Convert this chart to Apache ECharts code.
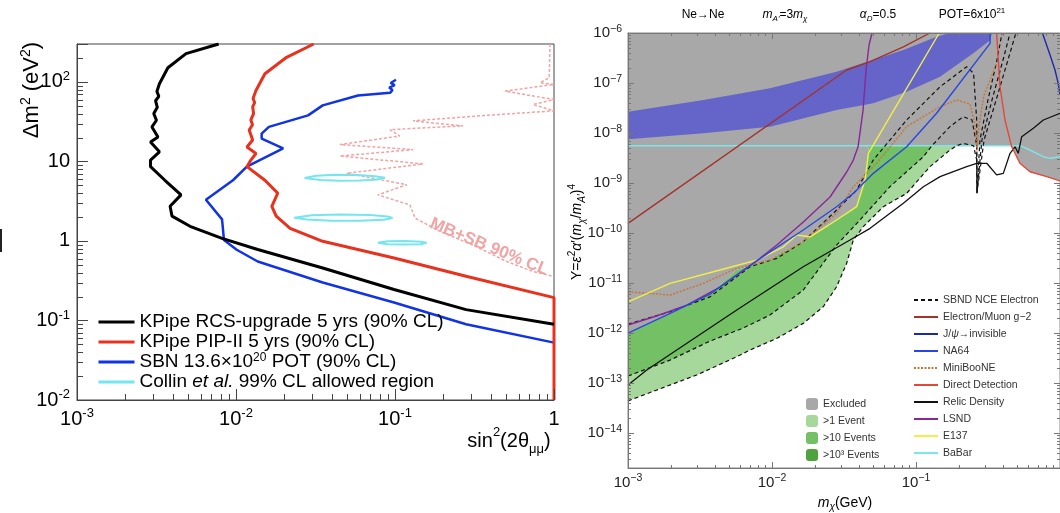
<!DOCTYPE html>
<html>
<head>
<meta charset="utf-8">
<title>KPipe / SBND sensitivity</title>
<style>
  html, body { margin: 0; padding: 0; background: #fff; }
  #chart { width: 1060px; height: 513px; }
</style>
</head>
<body>
<div id="chart"></div>
<script src="https://cdn.jsdelivr.net/npm/echarts@6/dist/echarts.min.js"></script>
<script>
const FONT = '"Liberation Sans", Arial, Helvetica, sans-serif';

// ---- left panel: sin^2(2θ) vs Δm^2 ----
const kpipeRcs = [
  [0.00778, 300], [0.00485, 227], [0.00373, 151], [0.0033, 95], [0.00318, 76], [0.00327, 66],
  [0.00312, 58], [0.0032, 48], [0.00304, 40], [0.00316, 33], [0.00296, 27.2], [0.00323, 20.3],
  [0.0029, 17.6], [0.0033, 13.2], [0.0029, 10.4], [0.0029, 8.6], [0.00357, 5.8], [0.00451, 3.8],
  [0.00385, 2.73], [0.00396, 2.05], [0.00514, 1.53], [0.00817, 1.08], [0.0137, 0.78],
  [0.0351, 0.457], [0.0986, 0.245], [0.28, 0.137], [1.0, 0.0895]
];
const kpipePip2 = [
  [0.0308, 300], [0.0208, 204], [0.0152, 127], [0.01335, 78], [0.0128, 62], [0.0131, 55],
  [0.01273, 48.6], [0.0129, 40], [0.0124, 33.3], [0.0127, 29], [0.0121, 24.9], [0.01273, 18.6],
  [0.01172, 15.2], [0.01335, 12.6], [0.0124, 10.4], [0.01172, 8.6], [0.0152, 5.8], [0.0183, 4.0],
  [0.0168, 2.73], [0.0179, 2.05], [0.0219, 1.44], [0.0351, 0.99], [0.0986, 0.61], [0.28, 0.36],
  [1.0, 0.194], [1.0, 0.01]
];
const sbn = [
  [0.1014, 106.6], [0.094, 97], [0.0995, 91], [0.092, 85], [0.0964, 79], [0.093, 73],
  [0.0585, 67.6], [0.0351, 50.7], [0.0284, 38], [0.0278, 36.4], [0.0161, 27.2], [0.0145, 22.4],
  [0.0145, 19.4], [0.0198, 14.6], [0.0117, 8.6], [0.00957, 5.8], [0.00647, 3.3], [0.00817, 1.87],
  [0.0084, 1.03], [0.0101, 0.775], [0.0137, 0.552], [0.0351, 0.30], [0.0986, 0.168],
  [0.28, 0.0895], [1.0, 0.0527]
];
const collinA = [
  [0.027, 6.2], [0.032, 6.6], [0.042, 6.8], [0.058, 6.75], [0.075, 6.5], [0.0865, 6.25],
  [0.078, 5.95], [0.06, 5.75], [0.045, 5.7], [0.034, 5.85], [0.027, 6.2]
];
const collinB = [
  [0.0232, 1.96], [0.03, 2.1], [0.045, 2.15], [0.07, 2.12], [0.09, 2.03], [0.0964, 1.95],
  [0.085, 1.85], [0.06, 1.8], [0.04, 1.8], [0.028, 1.86], [0.0232, 1.96]
];
const collinC = [
  [0.078, 0.95], [0.09, 0.99], [0.115, 1.0], [0.145, 0.98], [0.158, 0.95], [0.145, 0.91],
  [0.115, 0.9], [0.09, 0.91], [0.078, 0.95]
];
const mbSb = [
  [0.944, 300], [0.933, 113], [0.817, 97.7], [1.0, 93], [0.492, 76.7], [1.0, 60], [0.738, 52],
  [1.0, 43.3], [0.413, 38.5], [0.13, 32.4], [0.268, 28], [0.093, 25.1], [0.107, 20.9],
  [0.045, 16.3], [0.13, 14.1], [0.045, 11.7], [0.15, 9.3], [0.0497, 7.1], [0.1186, 5.1],
  [0.078, 3.8], [0.124, 2.84], [0.134, 1.93], [0.192, 1.32], [0.31, 0.887], [0.504, 0.552],
  [0.738, 0.413], [1.0, 0.357]
];

// ---- right panel: m_chi vs Y ----
const excludedEdge = [
  [0.001, 1.0e-12], [0.00196, 2.48e-12], [0.00371, 6.0e-12], [0.00569, 1.82e-11],
  [0.00968, 2.88e-11], [0.012, 4.17e-11], [0.01648, 6.7e-11], [0.019, 8.7e-11],
  [0.0281, 1.82e-10], [0.0387, 3.36e-10], [0.0443, 1.15e-9], [0.0472, 5.57e-9],
  [0.462, 5.57e-9], [0.527, 2.48e-9], [0.619, 1.68e-9], [0.809, 1.34e-9], [1.0, 1.1e-9]
];
const oneEventEdge = [
  [0.001, 4.4e-14], [0.003, 1.45e-13], [0.00569, 3.36e-13], [0.00704, 4.57e-13],
  [0.0108, 7.83e-13], [0.01648, 1.56e-12], [0.0227, 3.36e-12], [0.0281, 8.43e-12],
  [0.033, 2.48e-11], [0.0367, 7.24e-11], [0.043, 1.34e-10], [0.0593, 3.36e-10],
  [0.0861, 6.2e-10], [0.125, 2.12e-9], [0.172, 4.57e-9], [0.191, 5.57e-9]
];
const oneEventTail = [
  [0.213, 6.2e-9], [0.251, 5.57e-9], [0.264, 2.88e-9], [0.265, 6.3e-10], [0.297, 7.24e-9],
  [0.36, 4.57e-8], [0.435, 2.88e-7], [0.494, 1e-6]
];
const tenEventEdge = [
  [0.001, 1.38e-13], [0.00196, 2.88e-13], [0.00371, 6.9e-13], [0.00632, 1.26e-12],
  [0.00968, 2.29e-12], [0.01648, 7.24e-12], [0.0281, 5.75e-11], [0.0408, 1.82e-10],
  [0.0659, 8.43e-10], [0.1125, 3.36e-9], [0.129, 5.57e-9]
];
const tenEventTail = [
  [0.172, 1.34e-8], [0.213, 2.12e-8], [0.245, 1.82e-8], [0.264, 5.57e-9], [0.265, 6.3e-10],
  [0.287, 7.24e-9], [0.337, 4.57e-8], [0.402, 2.88e-7], [0.45, 1e-6]
];
const thousandEvent = [
  [0.001, 1.51e-12], [0.00196, 2.67e-12], [0.00371, 5.3e-12], [0.00704, 2.12e-11],
  [0.0108, 3.12e-11], [0.01648, 6.7e-11], [0.0281, 2.88e-10], [0.0387, 7.24e-10],
  [0.0505, 2.88e-9], [0.0861, 1.82e-8], [0.147, 8.43e-8], [0.225, 2.12e-7], [0.251, 1.56e-7],
  [0.264, 1.82e-8], [0.265, 6.2e-10], [0.278, 7.24e-9], [0.316, 4.57e-8], [0.365, 2.88e-7],
  [0.396, 1e-6]
];
const g2BandUpper = [
  [0.001, 2.67e-8], [0.00334, 4.57e-8], [0.00968, 7.83e-8], [0.0281, 1.68e-7],
  [0.0817, 4.57e-7], [0.139, 8.43e-7], [0.172, 1e-6]
];
const g2BandLower = [
  [0.001, 7.48e-9], [0.00334, 9.86e-9], [0.00968, 1.34e-8], [0.0281, 2.88e-8],
  [0.0505, 3.93e-8], [0.0861, 6.7e-8], [0.147, 1.34e-7], [0.25, 3.93e-7], [0.327, 7.2e-7],
  [0.337, 1e-6]
];
const g2Line = [[0.001, 1.56e-10], [0.033, 1.82e-7], [0.048, 2.67e-7], [0.0817, 5.3e-7], [0.125, 1e-6]];
const jpsiInvisible = [[0.755, 1e-6], [0.853, 3.63e-7], [0.923, 1.82e-7], [0.972, 9.86e-8], [1.0, 5.75e-8]];
const na64 = [
  [0.001, 1e-12], [0.00196, 2.48e-12], [0.00371, 6e-12], [0.00632, 1.82e-11], [0.00969, 4.2e-11],
  [0.01648, 1.15e-10], [0.0281, 3.36e-10], [0.0367, 6.2e-10], [0.0505, 1.56e-9],
  [0.0861, 5.3e-9], [0.139, 2.48e-8], [0.327, 6.2e-7], [0.327, 1e-6]
];
const miniBooNE = [
  [0.001, 6.7e-12], [0.00196, 5.75e-12], [0.00334, 9.86e-12], [0.00569, 1.97e-11],
  [0.00968, 2.88e-11], [0.01648, 6.7e-11], [0.0281, 2.48e-10], [0.0367, 8.4e-10],
  [0.0533, 2.48e-9], [0.0861, 1.34e-8], [0.147, 3.36e-8], [0.192, 4.57e-8], [0.237, 3.8e-8],
  [0.257, 1.45e-8], [0.265, 4.57e-9], [0.274, 1.45e-8], [0.297, 5.75e-8], [0.363, 2.48e-7]
];
const directDetection = [
  [0.363, 1e-6], [0.383, 8.43e-8], [0.415, 1.82e-8], [0.462, 5.3e-9], [0.527, 2.48e-9],
  [0.619, 1.68e-9], [0.809, 1.34e-9], [1.0, 1.1e-9]
];
const relicDensity = [
  [0.001, 9.1e-14], [0.00135, 1.82e-13], [0.00569, 2.88e-12], [0.01648, 2.12e-11],
  [0.0348, 7.24e-11], [0.048, 1.24e-10], [0.0817, 3.93e-10], [0.1125, 8.43e-10],
  [0.147, 1.34e-9], [0.225, 2.12e-9], [0.264, 2.48e-9], [0.31, 2.48e-9], [0.363, 1.45e-9],
  [0.404, 1.56e-9], [0.45, 3.93e-9], [0.487, 5.3e-9], [0.513, 3.93e-9], [0.542, 8.43e-9],
  [0.653, 1.24e-8], [0.766, 1.82e-8], [1.0, 2.48e-8]
];
const lsnd = [
  [0.001, 1.45e-12], [0.00158, 2.19e-12], [0.00256, 3.63e-12], [0.00435, 8.3e-12],
  [0.00704, 2.19e-11], [0.0108, 5.75e-11], [0.0165, 1.66e-10], [0.0253, 5.25e-10],
  [0.033, 1.66e-9], [0.0367, 2.88e-9], [0.0396, 5.3e-9], [0.0429, 2.88e-8], [0.045, 1.82e-7],
  [0.0472, 5.75e-7], [0.0495, 1e-6]
];
const e137 = [
  [0.001, 4.2e-12], [0.00196, 9.86e-12], [0.00435, 1.82e-11], [0.00783, 2.88e-11],
  [0.012, 5.3e-11], [0.01485, 9.1e-11], [0.0184, 8.4e-11], [0.0281, 1.82e-10],
  [0.0387, 3.36e-10], [0.0443, 1.15e-9], [0.0467, 3.93e-9], [0.145, 1e-6]
];
const babar = [[0.001, 5.57e-9], [0.527, 5.57e-9], [0.619, 4.57e-9], [0.766, 3.36e-9], [0.853, 3.12e-9], [1.0, 3.36e-9]];

// axis ranges
const leftX = [0.001, 1], leftY = [0.01, 300];
const rightX = [0.001, 1], rightY = [2e-15, 1e-6];

// regions built from the edges above
const excludedRegion = excludedEdge.concat([[1, 1e-6], [0.001, 1e-6]]);
const belowExcluded = edge => edge.concat(
  excludedEdge.filter(p => p[0] <= edge[edge.length - 1][0]).reverse());
const oneEventRegion = belowExcluded(oneEventEdge);
const tenEventRegion = belowExcluded(tenEventEdge);
const g2Band = g2BandUpper.concat(g2BandLower.slice().reverse());

function powLabel(v, plain, minus, skipOne) {
  const lg = Math.log10(v);
  const e = Math.round(lg);
  if (Math.abs(lg - e) > 1e-6) return '';
  if (skipOne && e === 0) return '';
  if (plain && e === 0) return '{b|1}';
  if (plain && e === 1) return '{b|10}';
  return '{b|10}{s|' + String(e).replace('-', minus) + '}';
}

// 2..9 x 10^k inside a range, for the small log ticks
function logMinors(range) {
  const out = [];
  for (let k = Math.floor(Math.log10(range[0])); k <= Math.ceil(Math.log10(range[1])); k++) {
    for (let m = 2; m <= 9; m++) {
      const v = m * Math.pow(10, k);
      if (v > range[0] * 1.0001 && v < range[1] * 0.9999) out.push(v);
    }
  }
  return out;
}

const leftRich = {
  b: { fontSize: 20, fontFamily: FONT, color: '#000', lineHeight: 24 },
  s: { fontSize: 13, fontFamily: FONT, color: '#000', verticalAlign: 'top' }
};
const rightRich = {
  b: { fontSize: 15, fontFamily: FONT, color: '#222', lineHeight: 19 },
  s: { fontSize: 10.5, fontFamily: FONT, color: '#222', verticalAlign: 'top' }
};

function logAxis(grid, range, pos, labels, opts) {
  return {
    gridIndex: grid, type: 'log', logBase: 10, min: range[0], max: range[1], position: pos, z: 10,
    axisLine: { show: true, onZero: false, lineStyle: { color: opts.color, width: 1 } },
    axisTick: { show: true, inside: true, length: opts.tick, lineStyle: { color: opts.color } },
    minorTick: { show: false },
    splitLine: { show: false },
    axisLabel: labels ? { margin: opts.margin, formatter: labels, rich: opts.rich } : { show: false }
  };
}

function minorTicks(xi, yi, xr, yr, len, color, sides) {
  return {
    type: 'custom', xAxisIndex: xi, yAxisIndex: yi, silent: true, z: 11, clip: false,
    data: [[xr[0], yr[0]]],
    renderItem: (params, api) => {
      const cs = params.coordSys;
      const seg = (x1, y1, x2, y2) => ({
        type: 'line', shape: { x1, y1, x2, y2 }, style: { stroke: color, lineWidth: 1 }
      });
      const kids = [];
      logMinors(xr).forEach(v => {
        const px = Math.round(api.coord([v, yr[0]])[0]) + 0.5;
        if (sides.bottom) kids.push(seg(px, cs.y + cs.height, px, cs.y + cs.height - len));
        if (sides.top) kids.push(seg(px, cs.y, px, cs.y + len));
      });
      logMinors(yr).forEach(v => {
        const py = Math.round(api.coord([xr[0], v])[1]) + 0.5;
        if (sides.left) kids.push(seg(cs.x, py, cs.x + len, py));
        if (sides.right) kids.push(seg(cs.x + cs.width, py, cs.x + cs.width - len, py));
      });
      return { type: 'group', children: kids };
    }
  };
}

const leftLine = (name, data, color, width, type) => ({
  name, type: 'line', data, xAxisIndex: 0, yAxisIndex: 0, symbol: 'none', z: 3,
  lineStyle: { color, width, type: type || 'solid' }, itemStyle: { color },
  emphasis: { disabled: true }, silent: true
});
const rightLine = (name, data, color, width, type) => ({
  name, type: 'line', data, xAxisIndex: 1, yAxisIndex: 1, symbol: 'none', z: 5,
  lineStyle: { color, width, type: type || 'solid' }, itemStyle: { color },
  emphasis: { disabled: true }, silent: true
});
const region = (name, pts, color, z) => ({
  name, type: 'custom', xAxisIndex: 1, yAxisIndex: 1, z, clip: true, silent: true,
  data: pts.length ? [pts[0]] : [], itemStyle: { color },
  renderItem: (params, api) => ({
    type: 'polygon',
    shape: { points: pts.map(p => api.coord(p)) },
    style: { fill: color }
  })
});

const C_RCS = 'KPipe RCS-upgrade 5 yrs (90% CL)';
const C_PIP = 'KPipe PIP-II 5 yrs (90% CL)';
const C_SBN = 'SBN 13.6x10^20 POT (90% CL)';
const C_COL = 'Collin et al. 99% CL allowed region';
const leftLegendText = {};
leftLegendText[C_SBN] = '{n|SBN 13.6×10}{s|20}{n| POT (90% CL)}';
leftLegendText[C_COL] = '{n|Collin }{i|et al.}{n| 99% CL allowed region}';

const cyanCollin = '#74e6ee';
const sbndDash = [4, 3];
const hideSymbol = { opacity: 0, borderWidth: 0 };

const chart = echarts.init(document.getElementById('chart'));
chart.setOption({
  animation: false,
  backgroundColor: '#fff',
  textStyle: { fontFamily: FONT },
  grid: [
    { left: 77, top: 44, width: 477, height: 356, show: true, borderColor: '#444', borderWidth: 1,
      containLabel: false, outerBoundsMode: 'none' },
    { left: 628, top: 33, width: 432, height: 435, show: true, borderColor: '#888', borderWidth: 1,
      containLabel: false, outerBoundsMode: 'none' }
  ],
  xAxis: [
    logAxis(0, leftX, 'bottom', v => powLabel(v, true, '-'), { color: '#444', tick: 11, margin: 7, rich: leftRich }),
    logAxis(1, rightX, 'bottom', v => powLabel(v, false, '−', true), { color: '#777', tick: 6, margin: 5, rich: rightRich }),
    logAxis(1, rightX, 'top', null, { color: '#777', tick: 6 })
  ],
  yAxis: [
    logAxis(0, leftY, 'left', v => powLabel(v, true, '-'), { color: '#444', tick: 11, margin: 7, rich: leftRich }),
    logAxis(1, rightY, 'left', v => powLabel(v, false, '−'), { color: '#777', tick: 6, margin: 6, rich: rightRich }),
    logAxis(1, rightY, 'right', null, { color: '#777', tick: 6 })
  ],
  legend: [
    {
      left: 97, top: 312, orient: 'vertical', padding: 0, itemWidth: 36, itemHeight: 14, itemGap: 0,
      selectedMode: false, data: [C_RCS, C_PIP, C_SBN, C_COL],
      lineStyle: { width: 3 }, itemStyle: hideSymbol,
      formatter: name => leftLegendText[name] || '{n|' + name + '}',
      textStyle: {
        fontSize: 19, fontFamily: FONT, color: '#000', lineHeight: 20,
        rich: {
          n: { fontSize: 19, fontFamily: FONT, color: '#000', lineHeight: 20 },
          i: { fontSize: 19, fontFamily: FONT, color: '#000', fontStyle: 'italic', lineHeight: 20 },
          s: { fontSize: 12, fontFamily: FONT, color: '#000', verticalAlign: 'top' }
        }
      }
    },
    {
      left: 806, top: 397.5, orient: 'vertical', padding: 0, itemWidth: 12, itemHeight: 12, itemGap: 4,
      selectedMode: false,
      data: [
        { name: 'Excluded', icon: 'roundRect', itemStyle: { color: '#a8a8a8' } },
        { name: '>1 Event', icon: 'roundRect', itemStyle: { color: '#a6d89b' } },
        { name: '>10 Events', icon: 'roundRect', itemStyle: { color: '#74c064' } },
        { name: '>10³ Events', icon: 'roundRect', itemStyle: { color: '#4ea33c' } }
      ],
      textStyle: { fontSize: 10.5, fontFamily: FONT, color: '#333', lineHeight: 13 }
    },
    {
      left: 913, top: 293.5, orient: 'vertical', padding: 0, itemWidth: 24, itemHeight: 10, itemGap: 4,
      selectedMode: false, lineStyle: { width: 2 }, itemStyle: hideSymbol,
      data: ['SBND NCE Electron', 'Electron/Muon g−2', 'J/ψ→invisible', 'NA64', 'MiniBooNE',
        'Direct Detection', 'Relic Density', 'LSND', 'E137', 'BaBar'],
      formatter: name => name === 'J/ψ→invisible' ? '{n|J/}{i|ψ}{n|→invisible}' : '{n|' + name + '}',
      textStyle: {
        fontSize: 10.5, fontFamily: FONT, color: '#333', lineHeight: 13,
        rich: {
          n: { fontSize: 10.5, fontFamily: FONT, color: '#333', lineHeight: 13 },
          i: { fontSize: 10.5, fontFamily: FONT, color: '#333', fontStyle: 'italic', lineHeight: 13 }
        }
      }
    }
  ],
  series: [
    // left panel
    leftLine('MB+SB 90% CL', mbSb, '#f2a3a3', 1.5, [3, 2]),
    leftLine(C_COL, collinA, cyanCollin, 2),
    leftLine(C_COL, collinB, cyanCollin, 2),
    leftLine(C_COL, collinC, cyanCollin, 2),
    leftLine(C_SBN, sbn, '#1133e6', 2.5),
    leftLine(C_PIP, kpipePip2, '#e8321e', 3),
    leftLine(C_RCS, kpipeRcs, '#000000', 3),
    minorTicks(0, 0, leftX, leftY, 6, '#444', { bottom: true, left: true }),
    // right panel regions
    region('Excluded', excludedRegion, '#a8a8a8', 1),
    region('>1 Event', oneEventRegion, '#a6d89b', 2),
    region('>10 Events', tenEventRegion, '#74c064', 3),
    region('>10³ Events', [], '#4ea33c', 3),
    region('g-2 band', g2Band, '#6565c9', 4),
    // right panel lines
    rightLine('BaBar', babar, '#7ee6e6', 1.4),
    rightLine('Relic Density', relicDensity, '#111111', 1.3),
    rightLine('SBND NCE Electron', oneEventEdge.concat(oneEventTail), '#111111', 1.2, sbndDash),
    rightLine('SBND NCE Electron', tenEventEdge.concat(tenEventTail), '#111111', 1.2, sbndDash),
    rightLine('SBND NCE Electron', thousandEvent, '#111111', 1.2, sbndDash),
    rightLine('MiniBooNE', miniBooNE, '#c7773a', 1.5, [2, 1.5]),
    rightLine('E137', e137, '#f0ef4a', 1.4),
    rightLine('LSND', lsnd, '#86289a', 1.4),
    rightLine('NA64', na64, '#2a46e2', 1.4),
    rightLine('J/ψ→invisible', jpsiInvisible, '#1c2aa8', 1.4),
    rightLine('Electron/Muon g−2', g2Line, '#a3322b', 1.4),
    rightLine('Direct Detection', directDetection, '#e4483a', 1.4),
    minorTicks(1, 1, rightX, rightY, 3, '#777', { bottom: true, top: true, left: true, right: true })
  ],
  graphic: [
    { type: 'rect', shape: { x: 0, y: 229, width: 2, height: 23 }, style: { fill: '#222' } },
    {
      type: 'text', x: 32, y: 90, rotation: Math.PI / 2,
      style: {
        text: '{n|Δm}{s|2}{n| (eV}{s|2}{n|)}', align: 'center', verticalAlign: 'middle',
        textAlign: 'center', textVerticalAlign: 'middle',
        rich: {
          n: { fontSize: 22, fontFamily: FONT, color: '#000', lineHeight: 26 },
          s: { fontSize: 14, fontFamily: FONT, color: '#000', verticalAlign: 'top' }
        }
      }
    },
    {
      type: 'text', x: 509, y: 441,
      style: {
        text: '{n|sin}{s|2}{n|(2θ}{u|μμ}{n|)}', align: 'center', verticalAlign: 'middle',
        textAlign: 'center', textVerticalAlign: 'middle',
        rich: {
          n: { fontSize: 20, fontFamily: FONT, color: '#000', lineHeight: 30 },
          s: { fontSize: 13, fontFamily: FONT, color: '#000', verticalAlign: 'top' },
          u: { fontSize: 13, fontFamily: FONT, color: '#000', verticalAlign: 'bottom' }
        }
      }
    },
    {
      type: 'text', x: 489, y: 247, rotation: -0.39,
      style: {
        text: 'MB+SB 90% CL', fill: '#f2a3a3', font: 'bold 17px ' + FONT,
        fontSize: 17, fontWeight: 'bold', fontFamily: FONT,
        align: 'center', verticalAlign: 'middle', textAlign: 'center', textVerticalAlign: 'middle'
      }
    },
    ...[
      [703, '{n|Ne→Ne}'],
      [785, '{i|m}{si|A′}{n|=3}{i|m}{si|χ}'],
      [878, '{i|α}{si|D}{n|=0.5}'],
      [972, '{n|POT=6x10}{s|21}']
    ].map(([x, text]) => ({
      type: 'text', x, y: 15,
      style: {
        text, align: 'center', verticalAlign: 'middle', textAlign: 'center', textVerticalAlign: 'middle',
        rich: {
          n: { fontSize: 12, fontFamily: FONT, color: '#222', lineHeight: 16 },
          i: { fontSize: 12, fontFamily: FONT, color: '#222', fontStyle: 'italic', lineHeight: 16 },
          si: { fontSize: 8, fontFamily: FONT, color: '#222', fontStyle: 'italic', verticalAlign: 'bottom' },
          s: { fontSize: 8, fontFamily: FONT, color: '#222', verticalAlign: 'top' }
        }
      }
    })),
    {
      type: 'text', x: 577, y: 232, rotation: Math.PI / 2,
      style: {
        text: '{n|Y=}{i|ε}{s|2}{i|α}{n|′(}{i|m}{si|χ}{n|/}{i|m}{si|A′}{n|)}{s|4}',
        align: 'center', verticalAlign: 'middle', textAlign: 'center', textVerticalAlign: 'middle',
        rich: {
          n: { fontSize: 14, fontFamily: FONT, color: '#222', lineHeight: 20 },
          i: { fontSize: 14, fontFamily: FONT, color: '#222', fontStyle: 'italic', lineHeight: 20 },
          s: { fontSize: 10, fontFamily: FONT, color: '#222', verticalAlign: 'top' },
          si: { fontSize: 10, fontFamily: FONT, color: '#222', fontStyle: 'italic', verticalAlign: 'bottom' }
        }
      }
    },
    {
      type: 'text', x: 845, y: 503,
      style: {
        text: '{i|m}{si|χ}{n|(GeV)}', align: 'center', verticalAlign: 'middle',
        textAlign: 'center', textVerticalAlign: 'middle',
        rich: {
          n: { fontSize: 14, fontFamily: FONT, color: '#222', lineHeight: 18 },
          i: { fontSize: 14, fontFamily: FONT, color: '#222', fontStyle: 'italic', lineHeight: 18 },
          si: { fontSize: 10, fontFamily: FONT, color: '#222', fontStyle: 'italic', verticalAlign: 'bottom' }
        }
      }
    }
  ]
});
</script>
</body>
</html>
